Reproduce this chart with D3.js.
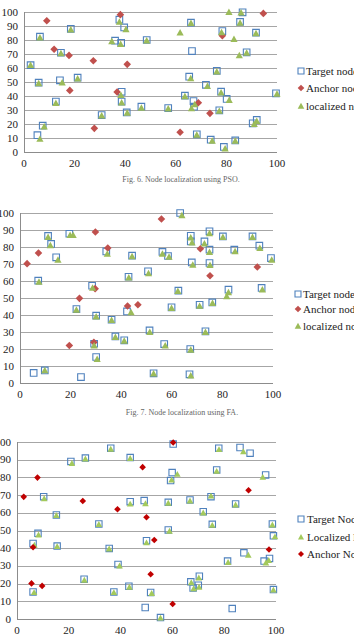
<!DOCTYPE html>
<html><head><meta charset="utf-8">
<script src="https://cdn.jsdelivr.net/npm/d3@7"></script>
<style>html,body{margin:0;padding:0;background:#fff;overflow:hidden}</style>
</head><body>
<svg id="c" width="354" height="643"></svg>
<script>
// ---------- data ----------
const xTicks = [0, 20, 40, 60, 80, 100];
const yTicks = [0, 10, 20, 30, 40, 50, 60, 70, 80, 90, 100];

const psoTarget = [[2.6,62],[6.3,82.4],[5.8,49.5],[14.2,51.2],[14.6,70.9],[18.5,88],[21.2,53.1],[12.6,36],[37.7,94.5],[39.6,89],[36,79.5],[38.4,78],[48.5,80],[38.6,43],[38.6,36],[5.3,12],[7.4,18.8],[30.7,26.4],[40.6,28.3],[46.4,32.4],[57,31.4],[67.2,32.4],[68.3,12.6],[77.2,29.8],[73.8,8.8],[79,3.6],[83.5,8.3],[90.4,20.5],[92,22.9],[86.4,99.8],[66,92.4],[85.4,92.9],[78.4,86.4],[91.7,85.2],[66.4,72.1],[88,71.2],[76.2,58],[65.3,53.8],[71.9,48],[63.6,40.2],[77.9,43.1],[80.1,37.9],[99.6,41.9],[67,36.4]];
const psoAnchor = [[9,93.8],[11.9,73.4],[17.8,69],[27.4,65.2],[38.1,98.1],[40.8,62.6],[18.1,44],[36.8,42.9],[94.6,99],[78.4,83],[68.9,35.2],[27.8,16.9],[61.7,14.1],[73.5,27.6]];
const psoLocalized = [[2.6,62],[6.3,81.7],[5.8,49],[15.1,49.5],[14.6,70.5],[18.5,87.5],[21.2,52.5],[12.6,35],[37.7,93],[40.3,87.6],[34.7,79],[38.2,77],[48.5,79.5],[38.3,40.7],[38.6,35.3],[6.3,9.3],[8,18.1],[30.7,26],[40.8,28],[46.4,31.6],[57,31],[66.2,31.2],[68.3,12.3],[77.2,29.3],[74.4,8],[79.5,2.4],[83.5,8],[91,20],[92,22],[81,100],[85.8,99.5],[66,92],[85.4,92.3],[61.7,85.3],[78.1,85.5],[83,80.7],[91.7,84.8],[85.1,69],[88,70.8],[76.2,57.5],[65.9,52.6],[72.5,47],[63.6,39.7],[77.9,42.5],[81.1,37],[100,41.5],[67.5,34]];

const faTarget = [[7.2,60.2],[11.1,86.5],[12.3,81.8],[14.3,73.9],[19.5,87.8],[28.5,57.2],[34.1,77.4],[44.3,74.9],[42.9,62.5],[50.6,65.7],[56.3,77.1],[58.5,74.7],[63.3,100],[62.6,54.3],[74.9,89.2],[67.5,86.6],[67.5,83.3],[80.2,86.2],[91.9,86.2],[72.9,83.3],[74.9,78.4],[84.7,78.4],[94.6,80.8],[99.2,73.5],[67.9,70.9],[74.9,70.6],[82.4,54.9],[95.5,55.9],[71,46],[76,47.4],[22.3,43.5],[42.3,42.1],[30.1,39.6],[36.2,37.2],[59.9,44.5],[51.2,30.9],[73.3,30.4],[29.3,23.1],[37.7,27.4],[41.2,25.1],[57,22.9],[67.3,20],[30.1,15.3],[5.4,5.9],[9.8,7.4],[24.1,3.5],[52.8,5.7],[67,5.1]];
const faAnchor = [[2.8,70.2],[7.3,76.5],[23.5,49.8],[29.7,55.5],[29.8,88.8],[34.7,79.4],[42.5,45.3],[46.6,46],[55.9,96.5],[71.3,79],[93.8,68.2],[75.1,63.1],[19.5,22.1],[29.2,24]];
const faLocalized = [[7.5,59.5],[11.1,85.8],[12,81],[15,72.5],[19.8,87],[21,87],[28.7,56],[34.5,76],[44.3,74.5],[43,62],[50.8,64.5],[56.3,76],[58.9,74.2],[64,98.6],[62.4,54],[74.9,88],[67.5,85.5],[68,82.6],[80.2,85.8],[91.9,85.8],[72.9,82],[74.9,77],[85,77.5],[94.8,79.4],[99.5,72.5],[68.3,69.5],[75.1,69.3],[82.4,53.3],[81.7,51],[95.8,55],[71,45.3],[76.1,47],[22.3,43],[43.9,41.5],[30.1,39],[36.2,37],[59.9,44],[51.3,30],[73.3,30],[29.3,22],[37.7,27],[41.2,24.8],[57.4,22],[67.5,19.5],[30.5,14.1],[9.8,7.4],[52.8,5.5],[67.5,4.3]];

const c3Target = [[10.3,69.1],[15.2,58.8],[8.1,48.4],[20.8,89],[26.4,90.9],[31.6,53.7],[36.2,96.5],[43.7,91.2],[43.7,66.3],[49.1,66.9],[58.4,65.9],[58.4,50.3],[59.3,78.2],[59.9,82.7],[60.3,98.8],[77.9,96.5],[86.1,96.9],[90,93.7],[77.1,84.2],[96,81.4],[74.9,69.1],[66.8,67.3],[84.4,65],[71.9,60.6],[75.4,53.5],[98.6,53.7],[99,47],[6.2,42.7],[15.5,41.2],[6.2,15.3],[25.9,22.5],[35.6,39.9],[39,30.8],[37.4,15.3],[43.2,18.5],[50,44.2],[51.6,15],[49.5,6.5],[55.4,0.8],[87.6,37.4],[97.5,34.2],[95.4,32.7],[81.3,32.7],[70.4,24.2],[67.1,21],[70,19.1],[68,17.5],[99,16.6],[83.1,5.9]];
const c3Localized = [[10.5,68],[15.2,58.5],[8.3,47.5],[21.2,88],[26.4,90.5],[31.6,53.5],[36.2,96],[43.7,90.8],[43.7,65],[49.6,65.2],[58.4,65.5],[58.9,49.7],[59.7,78.6],[61.9,81.8],[78,95.8],[87.4,94.6],[77.1,83.5],[94.9,80.1],[74.9,69.5],[66.8,66.8],[84.4,64.5],[71.9,60],[75.4,53],[98.6,53.2],[99.6,46.5],[6.7,41.8],[15.5,41],[6.6,15],[26,22],[35.6,39.6],[39.6,30],[37.4,15],[43.4,18],[50,43.1],[52,14.5],[55.4,0.6],[89.3,36.1],[97.2,33.2],[96.1,31.7],[81.5,32],[70.2,23.3],[67.3,20.6],[70.3,18],[68.2,17.2],[99,16.4]];
const c3Anchor = [[2.6,69],[7.9,79.9],[25.4,66.7],[38.8,62],[48.5,85.8],[50,57.5],[60.3,99.7],[89.4,72.7],[6.2,40.5],[5.6,20.1],[9.7,18.7],[53,44.6],[51.6,25.3],[60.1,8.5],[97.3,39.3]];

const legend1 = ["Target node", "Anchor node", "localized node"];
const legend3 = ["Target Node", "Localized Node", "Anchor Node"];
const caption1 = "Fig. 6. Node localization using PSO.";
const caption2 = "Fig. 7. Node localization using FA.";

// ---------- drawing ----------
const svg = d3.select("#c");
const FONT = "'Liberation Serif','Times New Roman',serif";

function sq(r){return `M${-r},${-r}H${r}V${r}H${-r}Z`;}
function dia(r){return `M0,${-r}L${r},0L0,${r}L${-r},0Z`;}
function tri(r){return `M0,${-r}L${r},${r*0.8}L${-r},${r*0.8}Z`;}

const styles = {
  target:{path:sq, fill:"none", stroke:"#4f81bd", sw:1.1},
  anchor:{path:dia, fill:"#c0504d", stroke:"none", sw:0},
  local:{path:tri, fill:"#9bbb59", stroke:"none", sw:0},
  anchor3:{path:dia, fill:"#c00000", stroke:"none", sw:0},
  local3:{path:tri, fill:"#a3c95c", stroke:"none", sw:0}
};

function chart(o){
  const g = svg.append("g");
  const x = d3.scaleLinear().domain([0,100]).range([o.x0,o.x1]);
  const y = d3.scaleLinear().domain([0,100]).range([o.y0,o.y1]);
  // grid
  g.selectAll(".grid").data(yTicks.filter(d=>d>0)).join("line")
    .attr("x1",o.x0).attr("x2",o.x1)
    .attr("y1",d=>Math.round(y(d))+0.5).attr("y2",d=>Math.round(y(d))+0.5)
    .attr("stroke","#a6a6a6").attr("stroke-width",1);
  // axes lines
  g.append("line").attr("x1",o.x0+0.5).attr("x2",o.x0+0.5).attr("y1",y(100)).attr("y2",y(0))
    .attr("stroke","#8c8c8c");
  g.append("line").attr("x1",o.x0).attr("x2",o.x1).attr("y1",Math.round(y(0))+0.5).attr("y2",Math.round(y(0))+0.5)
    .attr("stroke","#8c8c8c");
  // tick labels
  g.selectAll(".yl").data(yTicks).join("text")
    .attr("x",o.x0-6).attr("y",d=>y(d)+3.5).attr("text-anchor","end")
    .attr("font-family",FONT).attr("font-size",11).attr("fill","#222").text(d=>d);
  g.selectAll(".xl").data(xTicks).join("text")
    .attr("x",d=>x(d)).attr("y",y(0)+15).attr("text-anchor","middle")
    .attr("font-family",FONT).attr("font-size",11).attr("fill","#222").text(d=>d);
  // series
  o.series.forEach(s=>{
    const st = styles[s.style];
    g.selectAll(null).data(s.data).join("path")
      .attr("transform",d=>`translate(${x(d[0])},${y(d[1])})`)
      .attr("d",st.path(s.r)).attr("fill",st.fill).attr("stroke",st.stroke).attr("stroke-width",st.sw);
  });
  // legend
  o.legend.forEach((L,i)=>{
    const st = styles[L.style];
    const ly = o.ly[i];
    g.append("path").attr("transform",`translate(${o.lx},${ly})`).attr("d",st.path(L.r))
      .attr("fill",st.fill).attr("stroke",st.stroke).attr("stroke-width",st.sw);
    g.append("text").attr("x",o.lx+o.lt).attr("y",ly+3.5).attr("font-family",FONT)
      .attr("font-size",11).attr("fill","#222").text(L.label);
  });
  if(o.caption){
    g.append("text").attr("x",o.cx).attr("y",o.cy).attr("text-anchor","middle")
      .attr("font-family",FONT).attr("font-size",8).attr("fill","#666").text(o.caption);
  }
}

chart({x0:24,x1:277,y0:152,y1:12,
  series:[{data:psoTarget,style:"target",r:3.3},{data:psoAnchor,style:"anchor",r:3.8},{data:psoLocalized,style:"local",r:3.6}],
  legend:[{label:legend1[0],style:"target",r:3},{label:legend1[1],style:"anchor",r:3.3},{label:legend1[2],style:"local",r:3.3}],
  lx:301,lt:5,ly:[71,88,106],cx:181,cy:182,caption:caption1});

chart({x0:20,x1:273,y0:383,y1:213,
  series:[{data:faTarget,style:"target",r:3.3},{data:faAnchor,style:"anchor",r:3.8},{data:faLocalized,style:"local",r:3.6}],
  legend:[{label:legend1[0],style:"target",r:3},{label:legend1[1],style:"anchor",r:3.3},{label:legend1[2],style:"local",r:3.3}],
  lx:298,lt:5,ly:[294,309,326],cx:182,cy:415,caption:caption2});

chart({x0:17,x1:276,y0:619,y1:442,
  series:[{data:c3Target,style:"target",r:3.2},{data:c3Localized,style:"local3",r:3.3},{data:c3Anchor,style:"anchor3",r:3.3}],
  legend:[{label:legend3[0],style:"target",r:3},{label:legend3[1],style:"local3",r:3},{label:legend3[2],style:"anchor3",r:3}],
  lx:301,lt:6,ly:[519,537,554],caption:null});
</script>
</body></html>
